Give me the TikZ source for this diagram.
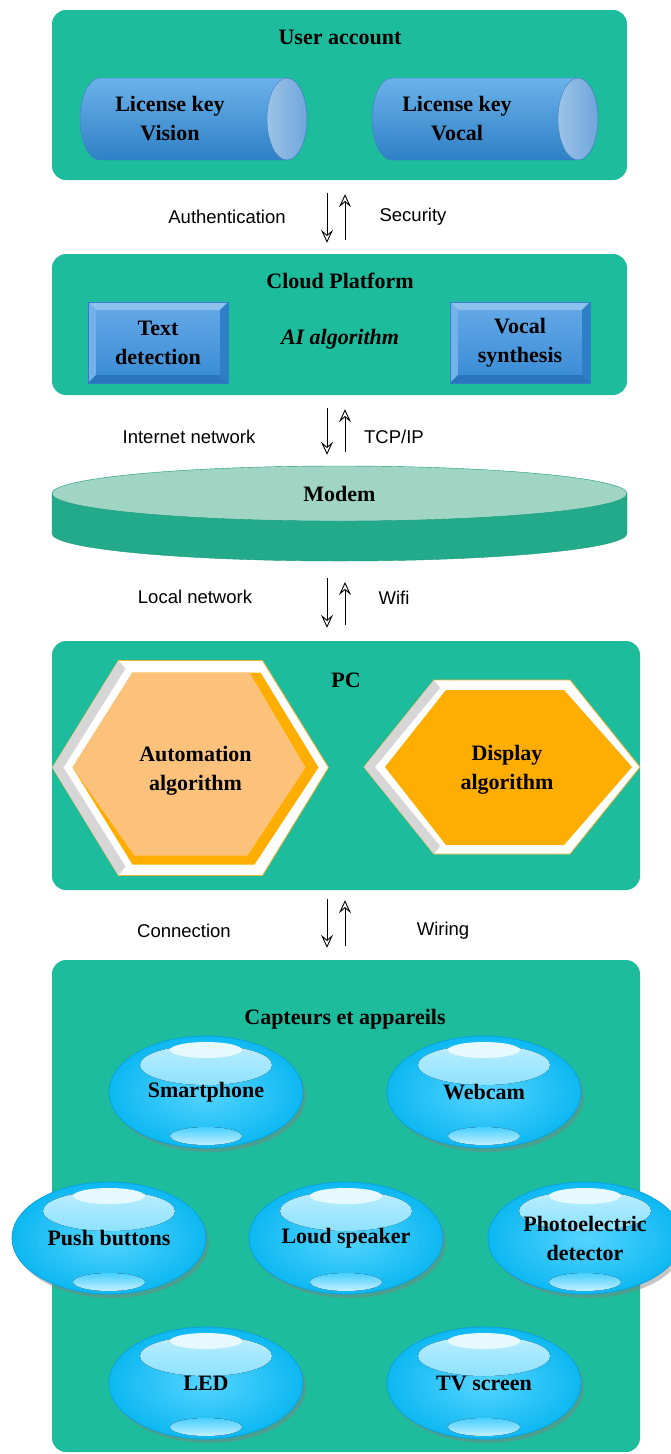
\documentclass[tikz,border=0pt]{standalone}
\usepackage{fontspec}
\setmainfont{Liberation Serif}
\setsansfont{Liberation Sans}
\usetikzlibrary{shapes.geometric,arrows.meta,shadows}

\definecolor{layergreen}{HTML}{1DBC9C}
\definecolor{modemtop}{HTML}{A0D5C3}
\definecolor{modemside}{HTML}{22AA8B}
\definecolor{modemline}{HTML}{17987C}
\definecolor{cyltop}{HTML}{6AB2EA}
\definecolor{cylmid}{HTML}{3592DC}
\definecolor{cylbot}{HTML}{2F80C6}
\definecolor{capA}{HTML}{9CC3E8}
\definecolor{capB}{HTML}{6FA5DA}
\definecolor{cylline}{HTML}{3A7FC0}
\definecolor{faceA}{HTML}{62A7E6}
\definecolor{faceB}{HTML}{3C8DD6}
\definecolor{bevtop}{HTML}{8EC2EE}
\definecolor{bevleft}{HTML}{74B0EA}
\definecolor{bevright}{HTML}{2F7FC8}
\definecolor{bevbot}{HTML}{2A76BC}
\definecolor{hexlight}{HTML}{FCC27C}
\definecolor{hexdark}{HTML}{FFAE00}
\definecolor{hexgray}{HTML}{D6D6D6}
\definecolor{hexline}{HTML}{F2B233}
\definecolor{bubin}{HTML}{55D4FF}
\definecolor{bubout}{HTML}{0DB8F2}
\definecolor{bubline}{HTML}{0AA2DE}
\definecolor{glossA}{HTML}{C4F0FF}
\definecolor{glossB}{HTML}{48CFFF}
\definecolor{glossC}{HTML}{E6F9FF}

\tikzset{
  layer/.style={fill=layergreen, rounded corners=14pt, inner sep=0pt},
  ttl/.style={font=\bfseries\fontsize{22}{29}\selectfont, align=center, inner sep=0pt},
  itl/.style={font=\bfseries\itshape\fontsize{22}{29}\selectfont, inner sep=0pt},
  lbl/.style={font=\sffamily\fontsize{18.5}{22}\selectfont, inner sep=0pt},
  dnarr/.style={-{Stealth[open,length=13pt,width=12pt,inset=5pt]}, line width=0.9pt,
    shorten <=13pt, shorten >=11pt},
  uparr/.style={-{Stealth[open,length=13pt,width=12pt,inset=5pt]}, line width=0.9pt,
    shorten <=14pt, shorten >=14pt},
  face/.style={ttl, minimum width=124pt, minimum height=65pt, top color=faceA, bottom color=faceB},
  bubble/.style={ellipse, ttl, minimum width=194pt, minimum height=112pt, draw=bubline,
    line width=0.8pt, inner color=bubin, outer color=bubout,
    drop shadow={shadow xshift=3pt, shadow yshift=-4pt, opacity=0.45},
    path picture={
      \fill[top color=glossA, bottom color=glossB]
        ([yshift=27pt]path picture bounding box.center) ellipse (66pt and 20pt);
      \fill[glossC]
        ([yshift=42pt]path picture bounding box.center) ellipse (36pt and 8pt);
      \fill[top color=glossB, bottom color=glossA]
        ([yshift=-44pt]path picture bounding box.center) ellipse (36pt and 9pt);
    }},
}

\begin{document}
\begin{tikzpicture}[x=1pt,y=-1pt]
\fill[white] (0,0) rectangle (670,1454);
\useasboundingbox (0,0) rectangle (670,1454);

% layers
\node[layer, minimum width=575pt, minimum height=170pt] (ua) at (339.5,95) {};
\node[layer, minimum width=575pt, minimum height=141pt] (cp) at (339.5,324.5) {};
\node[layer, minimum width=588pt, minimum height=249pt] (pc) at (346,765.5) {};
\node[layer, minimum width=588pt, minimum height=492pt] (dev) at (346,1206) {};

% user account
\node[ttl] (uatitle) at (340,37) {User account};
\shade[top color=cyltop, middle color=cylmid, bottom color=cylbot, draw=cylline]
  (100,78) -- (287,78) arc(-90:90:20 and 41) -- (100,160) arc(90:270:20 and 41) -- cycle;
\shade[left color=capA, right color=capB, draw=cylline] (287,119) ellipse (20 and 41);
\shade[top color=cyltop, middle color=cylmid, bottom color=cylbot, draw=cylline]
  (392,78) -- (578,78) arc(-90:90:20 and 41) -- (392,160) arc(90:270:20 and 41) -- cycle;
\shade[left color=capA, right color=capB, draw=cylline] (578,119) ellipse (20 and 41);
\node[ttl] (keyvis) at (170,119) {License key\\Vision};
\node[ttl] (keyvoc) at (457,119) {License key\\Vocal};

% cloud platform
\node[ttl] (cptitle) at (340,281) {Cloud Platform};
\node[itl] (ai) at (340,339) {AI algorithm};
\node[face] (txtdet) at (158,342.5) {Text\\detection};
\node[face] (vocsyn) at (520,342.5) {Vocal\\synthesis};
\foreach \b in {txtdet,vocsyn} {
  \fill[bevtop] ([shift={(-8,-8)}]\b.north west) -- ([shift={(8,-8)}]\b.north east)
    -- (\b.north east) -- (\b.north west) -- cycle;
  \fill[bevleft] ([shift={(-8,-8)}]\b.north west) -- (\b.north west)
    -- (\b.south west) -- ([shift={(-8,8)}]\b.south west) -- cycle;
  \fill[bevright] ([shift={(8,-8)}]\b.north east) -- ([shift={(8,8)}]\b.south east)
    -- (\b.south east) -- (\b.north east) -- cycle;
  \fill[bevbot] ([shift={(-8,8)}]\b.south west) -- ([shift={(8,8)}]\b.south east)
    -- (\b.south east) -- (\b.south west) -- cycle;
  \draw[bevright, line width=0.6pt] ([shift={(-8,-8)}]\b.north west) rectangle ([shift={(8,8)}]\b.south east);
}

% modem
\fill[modemside, draw=modemline] (52,493.5) -- (52,533.5) arc(180:0:287.5 and 27.5) -- (627,493.5) -- cycle;
\node[ellipse, ttl, fill=modemtop, draw=modemline, minimum width=575pt, minimum height=55pt] (modem)
  at (339.5,493.5) {Modem};
\coordinate (modembase) at (339.5,561);

% pc
\node[ttl] (pctitle) at (346,680) {PC};
\begin{scope}[shift={(190.5,767.5)}]
\fill[white, draw=hexline, line width=0.8pt] (-72,-107) -- (72,-107) -- (138,0) -- (72,108) -- (-72,108) -- (-138,0) -- cycle;
\fill[hexgray] (-72,-107) -- (-138,0) -- (-72,108) -- (-65,99) -- (-127,0) -- (-65,-99) -- cycle;
\fill[hexdark] (-58,-95) -- (70,-95) -- (128,0) -- (64,97) -- (-58,97) -- (-118,0) -- cycle;
\fill[hexlight] (-58,-95) -- (59,-95) -- (115,0) -- (57,88) -- (-56,88) -- (-118,0) -- cycle;
\node[ttl] (autoalg) at (5,3) {Automation\\algorithm};
\end{scope}
\begin{scope}[shift={(502,767)}]
\fill[white, draw=hexline, line width=0.8pt] (-68,-87) -- (68,-87) -- (138,0) -- (68,87) -- (-68,87) -- (-138,0) -- cycle;
\fill[hexgray] (-68,-87) -- (-138,0) -- (-68,87) -- (-62,79) -- (-127,0) -- (-62,-79) -- cycle;
\fill[hexdark] (-56,-77) -- (62,-77) -- (130,0) -- (62,78) -- (-56,78) -- (-117,0) -- cycle;
\node[ttl] (dispalg) at (5,3) {Display\\algorithm};
\end{scope}

% devices
\node[ttl] (devtitle) at (345,1019) {Capteurs et appareils};
\node[bubble] (phone) at (206,1092) {Smartphone};
\node[bubble] (cam) at (484,1092) {Webcam};
\node[bubble] (push) at (109,1238) {Push buttons};
\node[bubble] (spk) at (346,1238) {Loud speaker};
\node[bubble] (photo) at (585,1238) {Photoelectric\\detector};
\node[bubble] (led) at (206,1383) {LED};
\node[bubble] (tv) at (484,1383) {TV screen};

% links
\coordinate (dncol) at (327,0);
\coordinate (upcol) at (345,0);
\draw[dnarr] (ua.south -| dncol) -- (cp.north -| dncol);
\draw[uparr] (cp.north -| upcol) -- (ua.south -| upcol);
\draw[dnarr] (cp.south -| dncol) -- (modem.north -| dncol);
\draw[uparr] (modem.north -| upcol) -- (cp.south -| upcol);
\draw[dnarr, shorten <=17pt, shorten >=13pt] (modembase -| dncol) -- (pc.north -| dncol);
\draw[uparr, shorten <=16pt, shorten >=21pt] (pc.north -| upcol) -- (modembase -| upcol);
\draw[dnarr, shorten <=9pt, shorten >=12pt] (pc.south -| dncol) -- (dev.north -| dncol);
\draw[uparr, shorten <=14pt, shorten >=10pt] (dev.north -| upcol) -- (pc.south -| upcol);

\node[lbl] (auth) at (227,217) {Authentication};
\node[lbl] (sec) at (413,217) {Security};
\node[lbl] (inet) at (189,437) {Internet network};
\node[lbl] (tcp) at (394,437) {TCP/IP};
\node[lbl] (lan) at (195,597) {Local network};
\node[lbl] (wifi) at (394,598) {Wifi};
\node[lbl] (conn) at (184,931) {Connection};
\node[lbl] (wire) at (443,931) {Wiring};
\end{tikzpicture}
\end{document}
